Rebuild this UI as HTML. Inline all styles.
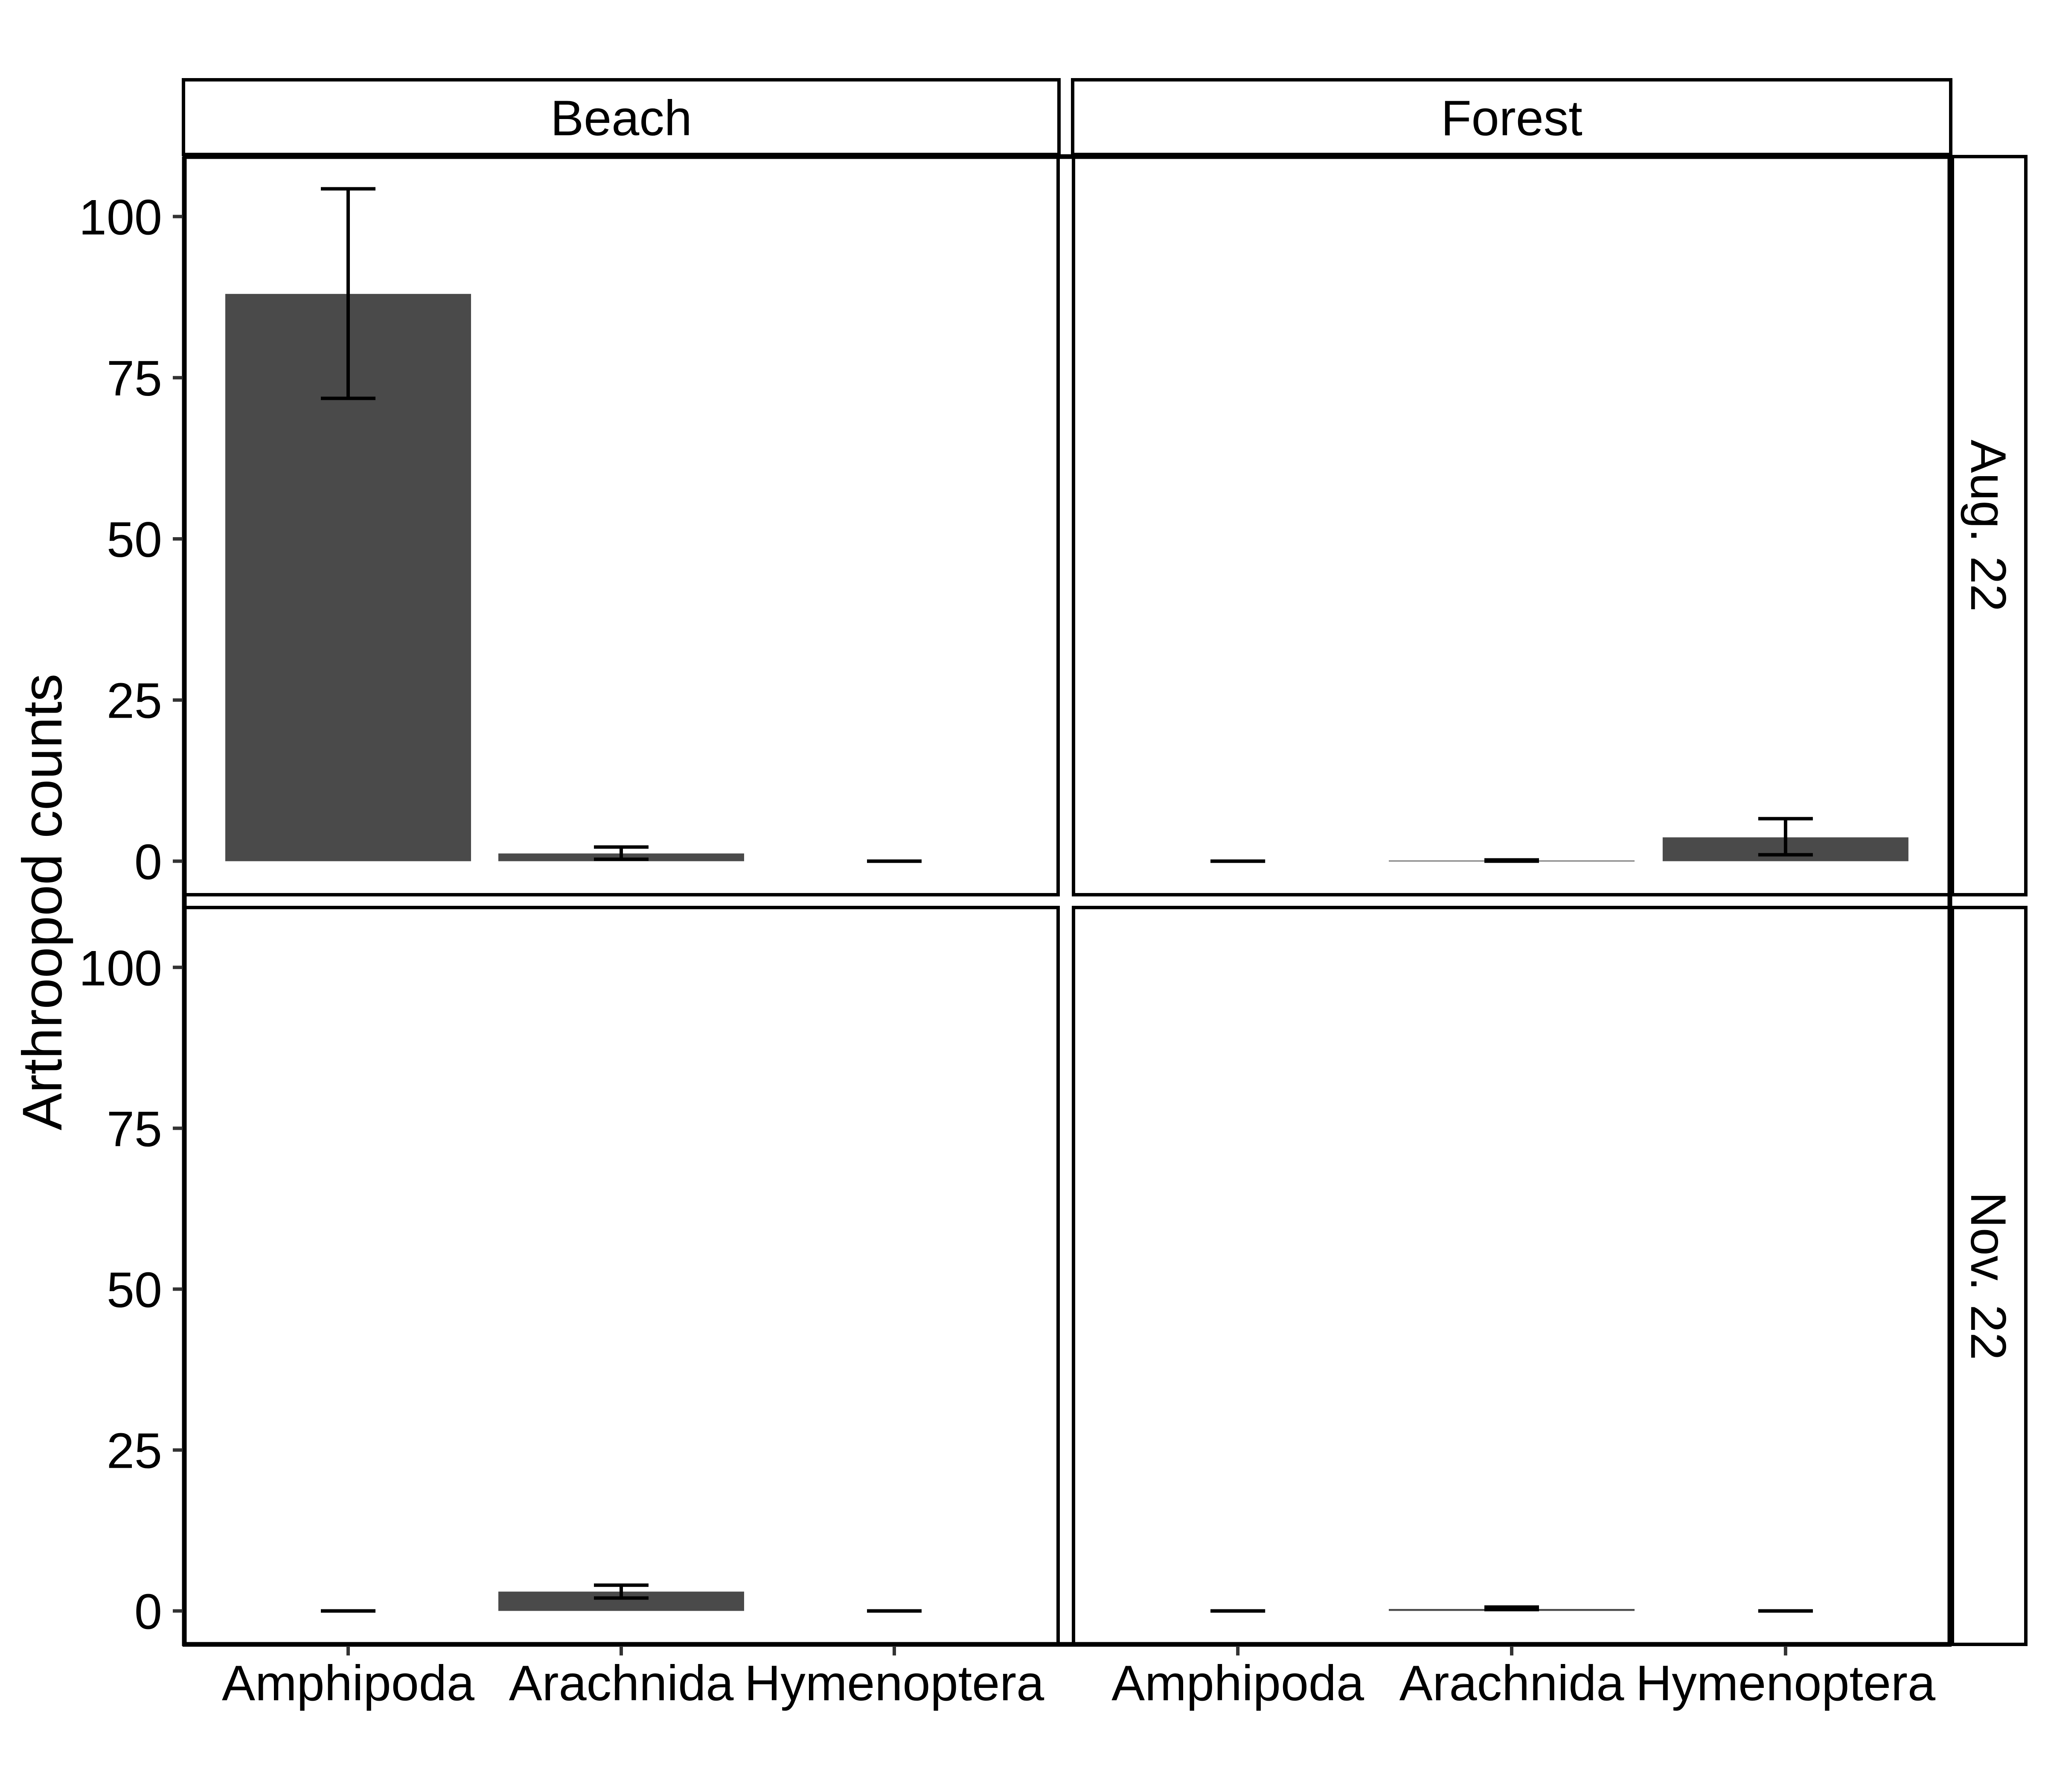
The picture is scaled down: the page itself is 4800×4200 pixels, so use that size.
<!DOCTYPE html>
<html><head><meta charset="utf-8"><style>
html,body{margin:0;padding:0;background:#fff;}
svg{display:block;}
text{font-family:"Liberation Sans",sans-serif;fill:#000;}
</style></head><body>
<svg id="chart" width="4800" height="4200" viewBox="0 0 4800 4200" xmlns="http://www.w3.org/2000/svg"></svg>
<script>
const categories = ["Amphipoda", "Arachnida", "Hymenoptera"];
const sites = ["Beach", "Forest"];
const dates = ["Aug. 22", "Nov. 22"];
const yTicks = [0, 25, 50, 75, 100];
// means per [date][site][category]
const augBeachMean = [88, 1.2, 0];
const augBeachLow = [71.8, 0.3, 0];
const augBeachHigh = [104.3, 2.2, 0];
const augForestMean = [0, 0.1, 3.7];
const augForestLow = [0, 0, 1];
const augForestHigh = [0, 0.2, 6.6];
const novBeachMean = [0, 3.0, 0];
const novBeachLow = [0, 2.0, 0];
const novBeachHigh = [0, 4.0, 0];
const novForestMean = [0, 0.3, 0];
const novForestLow = [0, 0.2, 0];
const novForestHigh = [0, 0.6, 0];
const means = [[augBeachMean, augForestMean], [novBeachMean, novForestMean]];
const lows = [[augBeachLow, augForestLow], [novBeachLow, novForestLow]];
const highs = [[augBeachHigh, augForestHigh], [novBeachHigh, novForestHigh]];

const NS = "http://www.w3.org/2000/svg";
const svg = document.getElementById("chart");
function mk(tag, attrs, parent) {
  const e = document.createElementNS(NS, tag);
  for (const k in attrs) e.setAttribute(k, attrs[k]);
  (parent || svg).appendChild(e);
  return e;
}
const colX = [[432, 2480], [2516, 4570]];
const rowY = [[367, 2097], [2127, 3854]];
const yMin = -5.2, yMax = 109.3;
function yScale(v, r) { const [t, b] = rowY[r]; return b - (v - yMin) / (yMax - yMin) * (b - t); }
function xScale(i, c) { const [l, r] = colX[c]; return l + (i + 1 - 0.4) / 3.2 * (r - l); }
const unit = (colX[0][1] - colX[0][0]) / 3.2;

// strips top
sites.forEach((s, c) => {
  const g = mk("g", {});
  
  
  mk("rect", {x: colX[c][0] - 2, y: 187, width: colX[c][1] - colX[c][0] + 4, height: 175, fill: "#fff", stroke: "#000", "stroke-width": 8}, g);
  const t = mk("text", {x: (colX[c][0] + colX[c][1]) / 2, y: 317, "font-size": 117, "text-anchor": "middle"}, g);
  t.textContent = s;
});
// strips right
dates.forEach((d, r) => {
  const g = mk("g", {});
  
  
  mk("rect", {x: 4576, y: rowY[r][0], width: 172, height: rowY[r][1] - rowY[r][0], fill: "#fff", stroke: "#000", "stroke-width": 8}, g);
  const cy = (rowY[r][0] + rowY[r][1]) / 2;
  const t = mk("text", {x: 0, y: 0, "font-size": 117, "text-anchor": "middle", transform: "translate(4620," + cy + ") rotate(90)"}, g);
  t.textContent = d;
});

for (let r = 0; r < 2; r++) {
  for (let c = 0; c < 2; c++) {
    const g = mk("g", {});
    
    
    categories.forEach((cat, i) => {
      const m = means[r][c][i];
      const cx = xScale(i, c);
      const y0 = yScale(0, r), y1 = yScale(m, r);
      if (m > 0) {
        const b = mk("rect", {x: cx - 0.45 * unit, y: y1, width: 0.9 * unit, height: Math.max(y0 - y1, 2), fill: "#4a4a4a"}, g);
        
        
      }
      const lo = yScale(lows[r][c][i], r), hi = yScale(highs[r][c][i], r);
      const eg = mk("g", {stroke: "#000", "stroke-width": 8}, g);
      
      
      mk("line", {x1: cx - 0.1 * unit, x2: cx + 0.1 * unit, y1: hi, y2: hi}, eg);
      mk("line", {x1: cx - 0.1 * unit, x2: cx + 0.1 * unit, y1: lo, y2: lo}, eg);
      mk("line", {x1: cx, x2: cx, y1: hi, y2: lo}, eg);
    });
    mk("rect", {x: colX[c][0], y: rowY[r][0], width: colX[c][1] - colX[c][0], height: rowY[r][1] - rowY[r][0], fill: "none", stroke: "#000", "stroke-width": 8}, g);
  }
}
// thick axis lines
mk("line", {x1: 432, x2: 432, y1: 367, y2: 3858, stroke: "#000", "stroke-width": 11});
mk("line", {x1: 4570, x2: 4570, y1: 367, y2: 3858, stroke: "#000", "stroke-width": 11});
mk("line", {x1: 428, x2: 4574, y1: 3854, y2: 3854, stroke: "#000", "stroke-width": 11});
mk("line", {x1: 432, x2: 4570, y1: 367, y2: 367, stroke: "#000", "stroke-width": 11});

// y axis ticks & labels
for (let r = 0; r < 2; r++) {
  const g = mk("g", {});
  
  
  yTicks.forEach(v => {
    const y = yScale(v, r);
    mk("line", {x1: 405, x2: 428, y1: y, y2: y, stroke: "#333", "stroke-width": 8}, g);
    const t = mk("text", {x: 380, y: y + 42, "font-size": 117, "text-anchor": "end"}, g);
    t.textContent = v;
  });
}
// x axis
for (let c = 0; c < 2; c++) {
  const g = mk("g", {});
  
  
  categories.forEach((cat, i) => {
    const x = xScale(i, c);
    mk("line", {x1: x, x2: x, y1: 3858, y2: 3880, stroke: "#333", "stroke-width": 8}, g);
    const t = mk("text", {x: x, y: 3985, "font-size": 117, "text-anchor": "middle"}, g);
    t.textContent = cat;
  });
}
const yt = mk("text", {x: 0, y: 0, "font-size": 131, "text-anchor": "middle", transform: "translate(144,2114) rotate(-90)"});


yt.textContent = "Arthroopod counts";
</script>
</body></html>
